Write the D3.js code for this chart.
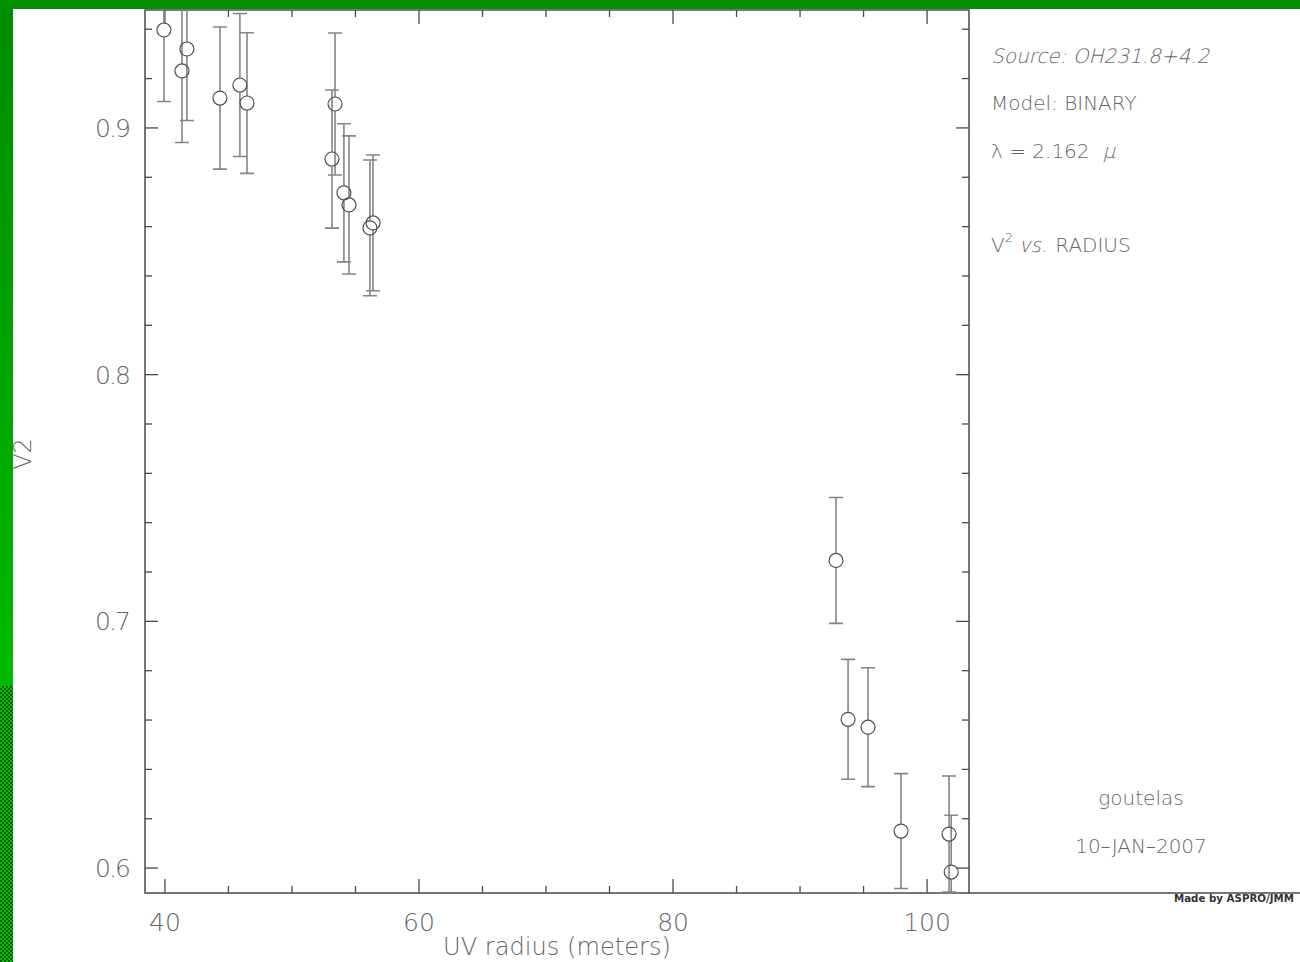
<!DOCTYPE html>
<html>
<head>
<meta charset="utf-8">
<script src="https://cdn.jsdelivr.net/npm/d3@7"></script>
<style>
  body { margin: 0; background: #fff; overflow: hidden; }
  text { font-family: "DejaVu Sans", sans-serif; font-weight: 200; fill: #666; }
</style>
</head>
<body>
<div id="chart"></div>
<script>
// données
const uvRadius = [39.92, 41.34, 41.73, 44.33, 45.9, 46.46, 53.39, 53.15, 54.09, 54.49, 56.14, 56.38, 92.83, 93.78, 95.35, 97.95, 101.73, 101.9];
const v2 = [0.9397, 0.9231, 0.932, 0.9121, 0.9174, 0.9101, 0.9097, 0.8874, 0.8737, 0.8688, 0.8595, 0.8615, 0.7247, 0.6603, 0.6571, 0.615, 0.6138, 0.5984];
const v2Err = [0.029, 0.029, 0.029, 0.0288, 0.029, 0.0285, 0.0288, 0.028, 0.028, 0.028, 0.0275, 0.0275, 0.0255, 0.0243, 0.0241, 0.0233, 0.0235, 0.023];
const xTicks = [40, 60, 80, 100];
const yTicks = [0.6, 0.7, 0.8, 0.9];

const W = 1300, H = 962;
const pLeft = 145, pRight = 969, pTop = 10, pBottom = 893;

const svg = d3.select('#chart').append('svg')
  .attr('width', W)
  .attr('height', H);

const defs = svg.append('defs');

// bande verte à gauche
const grad = defs.append('linearGradient')
  .attr('id', 'greenGrad')
  .attr('x1', 0).attr('y1', 0).attr('x2', 0).attr('y2', 1);
grad.append('stop').attr('offset', '0%').attr('stop-color', '#008c00');
grad.append('stop').attr('offset', '100%').attr('stop-color', '#00cc00');

const pat = defs.append('pattern')
  .attr('id', 'checker')
  .attr('width', 4).attr('height', 4)
  .attr('patternUnits', 'userSpaceOnUse');
pat.append('rect').attr('width', 4).attr('height', 4).attr('fill', '#00c000');
pat.append('rect').attr('width', 2).attr('height', 2).attr('fill', '#005c00');
pat.append('rect').attr('x', 2).attr('y', 2).attr('width', 2).attr('height', 2).attr('fill', '#005c00');

defs.append('clipPath').attr('id', 'plotClip')
  .append('rect')
  .attr('x', pLeft).attr('y', pTop)
  .attr('width', pRight - pLeft).attr('height', pBottom - pTop);

svg.append('rect').attr('width', W).attr('height', H).attr('fill', '#fff');
svg.append('rect').attr('x', 0).attr('y', 0).attr('width', 13).attr('height', H).attr('fill', 'url(#greenGrad)');
svg.append('rect').attr('x', 0).attr('y', 686).attr('width', 13).attr('height', H - 686).attr('fill', 'url(#checker)');
svg.append('rect').attr('x', 0).attr('y', 0).attr('width', W).attr('height', 9).attr('fill', '#009000');

// échelles
const x = d3.scaleLinear().domain([38.43, 103.3]).range([pLeft, pRight]);
const y = d3.scaleLinear().domain([0.5899, 0.9478]).range([pBottom, pTop]);

const axisColor = '#4a4a4a';

// cadre
svg.append('path')
  .attr('d', `M${pLeft},${pTop}H${pRight}V${pBottom}H${pLeft}Z`)
  .attr('fill', 'none')
  .attr('stroke', axisColor)
  .attr('stroke-width', 1.5);
svg.append('line')
  .attr('x1', pRight).attr('x2', W)
  .attr('y1', pBottom).attr('y2', pBottom)
  .attr('stroke', axisColor)
  .attr('stroke-width', 1.5);

// graduations
const ticks = svg.append('g').attr('stroke', axisColor).attr('stroke-width', 1.3);
d3.range(40, 103.3, 5).forEach(v => {
  const len = v % 20 === 0 ? 14 : 7;
  ticks.append('line').attr('x1', x(v)).attr('x2', x(v)).attr('y1', pBottom).attr('y2', pBottom - len);
  ticks.append('line').attr('x1', x(v)).attr('x2', x(v)).attr('y1', pTop).attr('y2', pTop + len);
});
d3.range(0.60, 0.95, 0.02).forEach(v => {
  const major = Math.abs(v * 10 - Math.round(v * 10)) < 1e-6;
  const len = major ? 13 : 7;
  ticks.append('line').attr('y1', y(v)).attr('y2', y(v)).attr('x1', pLeft).attr('x2', pLeft + len);
  ticks.append('line').attr('y1', y(v)).attr('y2', y(v)).attr('x1', pRight).attr('x2', pRight - len);
});

// libellés des axes
svg.append('g').selectAll('text')
  .data(xTicks)
  .enter().append('text')
  .attr('x', d => x(d))
  .attr('y', 931)
  .attr('text-anchor', 'middle')
  .style('font-size', '25px')
  .text(d => d);

svg.append('g').selectAll('text')
  .data(yTicks)
  .enter().append('text')
  .attr('x', 131)
  .attr('y', d => y(d) + 9)
  .attr('text-anchor', 'end')
  .style('font-size', '25px')
  .attr('textLength', 36)
  .text(d => d.toFixed(1));

svg.append('text')
  .attr('x', 443)
  .attr('y', 955)
  .style('font-size', '25px')
  .attr('textLength', 228)
  .attr('lengthAdjust', 'spacingAndGlyphs')
  .text('UV radius (meters)');

svg.append('text')
  .attr('transform', 'translate(31,454) rotate(-90)')
  .attr('text-anchor', 'middle')
  .style('font-size', '24px')
  .text('V2');

// barres d'erreur et points
const r = 7;
const plot = svg.append('g').attr('clip-path', 'url(#plotClip)');
const pts = uvRadius.map((d, i) => ({ x: d, y: v2[i], e: v2Err[i] }));

plot.selectAll('.err')
  .data(pts)
  .enter().append('path')
  .attr('class', 'err')
  .attr('stroke', '#858585')
  .attr('stroke-width', 1.6)
  .attr('fill', 'none')
  .attr('d', d => {
    const cx = x(d.x), cy = y(d.y), y0 = y(d.y + d.e), y1 = y(d.y - d.e);
    return `M${cx},${y0}V${cy - r}M${cx},${cy + r}V${y1}` +
      `M${cx - 7},${y0}H${cx + 7}M${cx - 7},${y1}H${cx + 7}`;
  });

plot.selectAll('.pt')
  .data(pts)
  .enter().append('circle')
  .attr('class', 'pt')
  .attr('cx', d => x(d.x))
  .attr('cy', d => y(d.y))
  .attr('r', r)
  .attr('fill', 'none')
  .attr('stroke', '#505050')
  .attr('stroke-width', 1.2);

// panneau de droite (italique simulé par skewX pour garder le trait fin)
const info = svg.append('g').style('font-size', '20px');

function word(px, py, str, italic) {
  const t = info.append('text')
    .attr('transform', `translate(${px},${py})` + (italic ? ' skewX(-14)' : ''))
    .text(str);
  return px + t.node().getComputedTextLength();
}

word(991, 63, 'Source: OH231.8+4.2', true);
word(991, 110, 'Model: BINARY', false);
let cx = word(991, 158, 'λ = 2.162', false);
word(cx + 13, 158, 'μ', true);

cx = word(991, 252, 'V', false);
info.append('text')
  .attr('x', cx)
  .attr('y', 242)
  .style('font-size', '13px')
  .text('2');
cx = word(cx + 14, 252, 'vs.', true);
word(cx + 8, 252, 'RADIUS', false);

info.append('text').attr('x', 1141).attr('y', 805).attr('text-anchor', 'middle').text('goutelas');
info.append('text').attr('x', 1141).attr('y', 853).attr('text-anchor', 'middle').text('10–JAN–2007');

svg.append('text')
  .attr('x', 1174)
  .attr('y', 902)
  .style('font-size', '11px')
  .style('font-weight', 'bold')
  .style('fill', '#333')
  .attr('textLength', 120)
  .attr('lengthAdjust', 'spacingAndGlyphs')
  .text('Made by ASPRO/JMM');
</script>
</body>
</html>
